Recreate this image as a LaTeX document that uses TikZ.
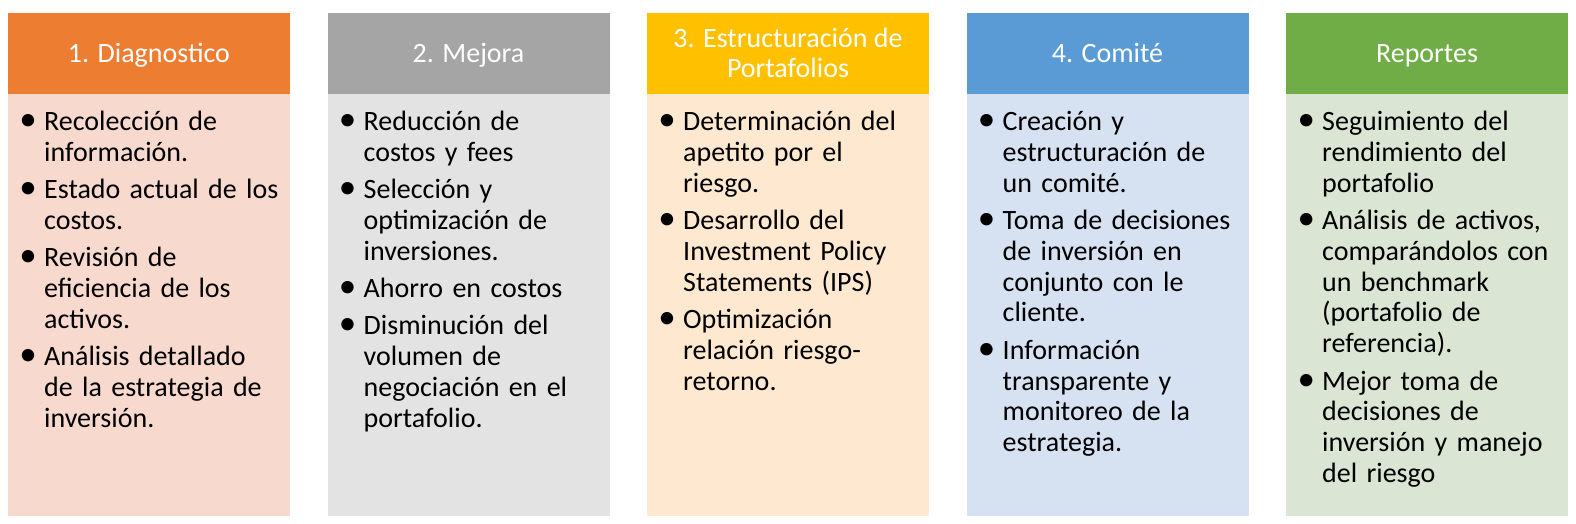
\documentclass[tikz,border=0pt]{standalone}
\usepackage{fontspec}
\setmainfont{Carlito}
\definecolor{hA}{HTML}{ED7D31}
\definecolor{hB}{HTML}{A5A5A5}
\definecolor{hC}{HTML}{FFC000}
\definecolor{hD}{HTML}{5B9BD5}
\definecolor{hE}{HTML}{70AD47}
\definecolor{bA}{HTML}{F8D9CE}
\definecolor{bB}{HTML}{E3E3E3}
\definecolor{bC}{HTML}{FEE8CF}
\definecolor{bD}{HTML}{D6E1F1}
\definecolor{bE}{HTML}{DAE5D4}
\newcommand\bul{\noindent\llap{\makebox[32pt][c]{\scalebox{1.25}{\textbullet}}}\rule{0pt}{22pt}}
\newcommand\gap{\par\vspace{6.3pt}}
\tikzset{
  hbox/.style={draw=none, minimum width=282pt, minimum height=81pt, inner sep=0pt, anchor=north west},
  bbox/.style={draw=none, minimum width=282pt, minimum height=422pt, inner sep=0pt, anchor=north west},
  htext/.style={anchor=north, text=white, align=center, inner sep=0pt, font=\fontsize{28}{30}\selectfont},
  btext/.style={anchor=north west, text width=240pt, inner sep=0pt, align=left, font=\fontsize{28}{30.9}\selectfont},
}
\begin{document}
\begin{tikzpicture}[x=1pt,y=-1pt]
\useasboundingbox (0,0) rectangle (1576,523);
% column 1
\node[hbox, fill=hA] (h1) at (8,13) {};
\node[bbox, fill=bA] (r1) at (8,94) {};
\node[htext] (t1) at (149,40) {\rule{0pt}{22pt}1. Diagnostico};
\node[btext] (b1) at (44,108) {\bul Recolección de\\información.\gap
\bul Estado actual de los\\costos.\gap
\bul Revisión de\\eficiencia de los\\activos.\gap
\bul Análisis detallado\\de la estrategia de\\inversión.};
% column 2
\node[hbox, fill=hB] (h2) at (327.5,13) {};
\node[bbox, fill=bB] (r2) at (327.5,94) {};
\node[htext] (t2) at (468.5,40) {\rule{0pt}{22pt}2. Mejora};
\node[btext] (b2) at (363.5,108) {\bul Reducción de\\costos y fees\gap
\bul Selección y\\optimización de\\inversiones.\gap
\bul Ahorro en costos\gap
\bul Disminución del\\volumen de\\negociación en el\\portafolio.};
% column 3
\node[hbox, fill=hC] (h3) at (647,13) {};
\node[bbox, fill=bC] (r3) at (647,94) {};
\node[htext] (t3) at (788,25) {\rule{0pt}{22pt}3. Estructuración de\\Portafolios};
\node[btext] (b3) at (683,108) {\bul Determinación del\\apetito por el\\riesgo.\gap
\bul Desarrollo del\\Investment Policy\\Statements (IPS)\gap
\bul Optimización\\relación riesgo-\\retorno.};
% column 4
\node[hbox, fill=hD] (h4) at (966.5,13) {};
\node[bbox, fill=bD] (r4) at (966.5,94) {};
\node[htext] (t4) at (1107.5,40) {\rule{0pt}{22pt}4. Comité};
\node[btext] (b4) at (1002.5,108) {\bul Creación y\\estructuración de\\un comité.\gap
\bul Toma de decisiones\\de inversión en\\conjunto con le\\cliente.\gap
\bul Información\\transparente y\\monitoreo de la\\estrategia.};
% column 5
\node[hbox, fill=hE] (h5) at (1286,13) {};
\node[bbox, fill=bE] (r5) at (1286,94) {};
\node[htext] (t5) at (1427,40) {\rule{0pt}{22pt}Reportes};
\node[btext] (b5) at (1322,108) {\bul Seguimiento del\\rendimiento del\\portafolio\gap
\bul Análisis de activos,\\comparándolos con\\un benchmark\\(portafolio de\\referencia).\gap
\bul Mejor toma de\\decisiones de\\inversión y manejo\\del riesgo};
\end{tikzpicture}
\end{document}
